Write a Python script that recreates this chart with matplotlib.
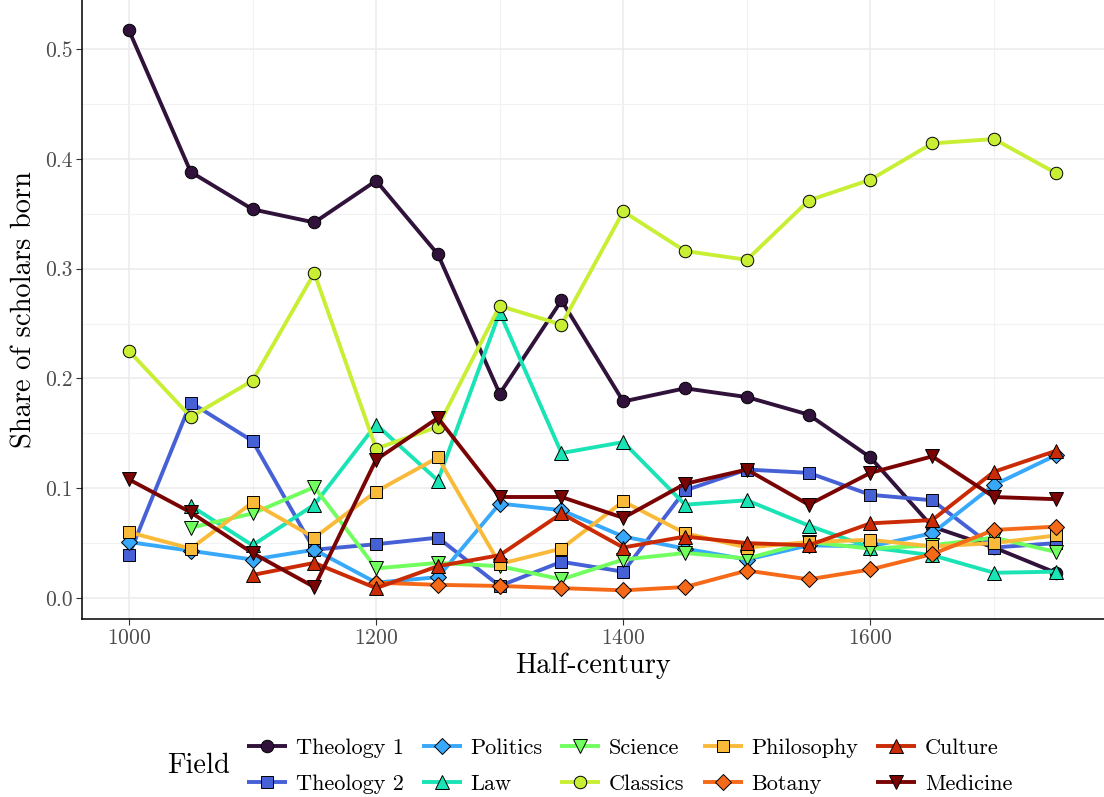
import numpy as np
import matplotlib
matplotlib.use("Agg")
import matplotlib.pyplot as plt
from matplotlib.ticker import MultipleLocator

plt.rcParams['font.family'] = ['cmr10', 'DejaVu Serif']
plt.rcParams['axes.formatter.use_mathtext'] = True
plt.rcParams['mathtext.fontset'] = 'cm'

nan = np.nan
years = [1000, 1050, 1100, 1150, 1200, 1250, 1300, 1350, 1400, 1450, 1500, 1550, 1600, 1650, 1700, 1750]

fields = ["Theology 1", "Theology 2", "Politics", "Law", "Science",
          "Classics", "Philosophy", "Botany", "Culture", "Medicine"]

theology1 = [0.517, 0.388, 0.354, 0.342, 0.380, 0.313, 0.186, 0.271, 0.179, 0.191, 0.183, 0.167, 0.128, 0.065, 0.046, 0.023]
theology2 = [0.039, 0.178, 0.143, 0.044, 0.049, 0.055, 0.011, 0.033, 0.024, 0.098, 0.117, 0.114, 0.094, 0.089, 0.046, 0.050]
politics = [0.051, 0.043, 0.035, 0.044, 0.014, 0.019, 0.086, 0.080, 0.056, 0.045, 0.035, 0.048, 0.047, 0.059, 0.103, 0.130]
law = [nan, 0.084, 0.048, 0.085, 0.158, 0.107, 0.260, 0.132, 0.142, 0.085, 0.089, 0.066, 0.046, 0.039, 0.023, 0.024]
science = [nan, 0.064, 0.077, 0.101, 0.027, 0.032, 0.029, 0.017, 0.035, 0.041, 0.036, 0.051, 0.045, 0.048, 0.055, 0.042]
classics = [0.225, 0.165, 0.198, 0.296, 0.136, 0.156, 0.266, 0.249, 0.352, 0.316, 0.308, 0.362, 0.381, 0.414, 0.418, 0.387]
philosophy = [0.060, 0.045, 0.087, 0.055, 0.097, 0.128, 0.031, 0.045, 0.088, 0.059, 0.046, 0.051, 0.053, 0.047, 0.050, 0.057]
botany = [nan, nan, nan, nan, 0.014, 0.012, 0.011, 0.009, 0.007, 0.010, 0.025, 0.017, 0.026, 0.040, 0.062, 0.065]
culture = [nan, nan, 0.021, 0.032, 0.009, 0.029, 0.039, 0.077, 0.046, 0.056, 0.050, 0.048, 0.068, 0.071, 0.115, 0.134]
medicine = [0.108, 0.078, 0.041, 0.010, 0.126, 0.164, 0.092, 0.092, 0.073, 0.104, 0.117, 0.085, 0.114, 0.129, 0.092, 0.090]

series = [theology1, theology2, politics, law, science, classics, philosophy, botany, culture, medicine]
markers = ["o", "s", "D", "^", "v", "o", "s", "D", "^", "v"]
msizes = [9, 8, 8, 10, 10, 9, 8, 8, 10, 10]
colors = plt.cm.turbo(np.linspace(0, 1, 10))

fig = plt.figure(figsize=(11.04, 7.97), dpi=100)
ax = fig.add_axes([82/1104, 1 - 619/797, 1 - 82/1104, 619/797])

for name, vals, mk, ms, c in zip(fields, series, markers, msizes, colors):
    ax.plot(years, vals, color=c, lw=2.8, marker=mk, ms=ms, mfc=c,
            mec="black", mew=0.7, label=name, solid_capstyle="butt")

ax.set_xlim(962, 1789)
ax.set_ylim(-0.0191, 0.5446)
ax.xaxis.set_major_locator(MultipleLocator(200))
ax.xaxis.set_minor_locator(MultipleLocator(100))
ax.yaxis.set_major_locator(MultipleLocator(0.1))
ax.yaxis.set_minor_locator(MultipleLocator(0.05))
ax.yaxis.set_major_formatter(matplotlib.ticker.FuncFormatter(lambda v, p: f"{v:.1f}"))
ax.grid(True, which="major", color="#ebebeb", lw=1.1)
ax.grid(True, which="minor", color="#f2f2f2", lw=0.8)
ax.set_axisbelow(True)
for s in ["top", "right"]:
    ax.spines[s].set_visible(False)
for s in ["left", "bottom"]:
    ax.spines[s].set_color("black")
    ax.spines[s].set_linewidth(1.1)
ax.tick_params(which="major", length=4, color="#333333", labelsize=15.5, labelcolor="#4d4d4d", pad=3)
ax.tick_params(which="minor", length=0)
ax.set_xlabel("Half-century", fontsize=20.5, labelpad=3)
ax.set_ylabel("Share of scholars born", fontsize=20.5, labelpad=5)

handles, labels = ax.get_legend_handles_labels()
leg = fig.legend(handles, labels, ncol=5, loc="center left",
                 bbox_to_anchor=(247/1104, 1 - 766/797), frameon=False,
                 fontsize=16, handlelength=1.8, handletextpad=0.4,
                 columnspacing=0.8, labelspacing=0.75, borderpad=0, borderaxespad=0)
fig.text(167/1104, 1 - 766/797, "Field", fontsize=20.5, va="center", ha="left")

fig.savefig("out.png", dpi=100)
